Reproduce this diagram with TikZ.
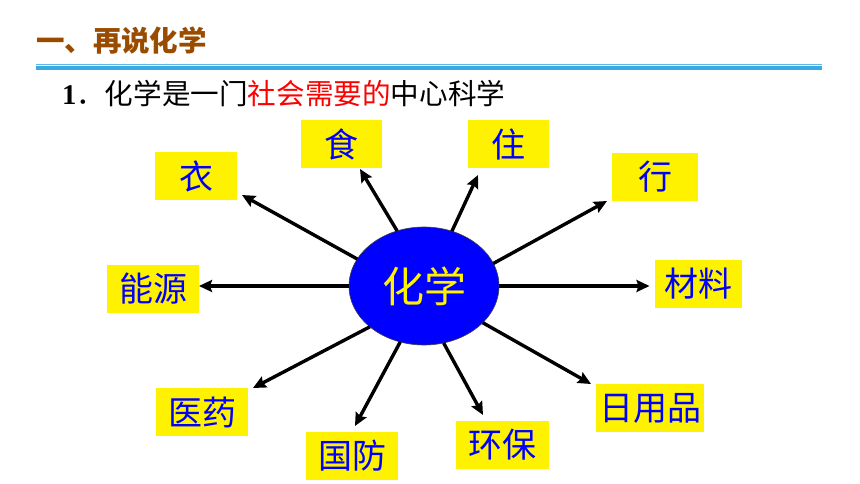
\documentclass[tikz,border=0pt]{standalone}
\usepackage{fontspec}
\newfontfamily\cjk{Noto Sans CJK SC}
\newfontfamily\serifnum{Liberation Serif}
\usetikzlibrary{shapes.geometric,arrows.meta}

\definecolor{titlebrown}{RGB}{153,76,0}
\definecolor{rulelight}{RGB}{95,185,232}
\definecolor{rulemain}{RGB}{58,170,226}

\tikzset{
  itembox/.style={
    fill=yellow, text=blue,
    minimum height=48pt, inner sep=0pt,
    align=center, font=\cjk\fontsize{34pt}{34pt}\selectfont
  },
  hubnode/.style={
    ellipse, draw=black!75, line width=0.6pt, fill=blue, text=yellow,
    minimum width=150pt, minimum height=118pt, inner sep=0pt,
    font=\cjk\fontsize{42pt}{42pt}\selectfont
  },
  spoke/.style={
    draw=black, line width=3.4pt,
    -{Stealth[length=13pt,width=12pt,inset=2pt]}
  },
}

\begin{document}
\begin{tikzpicture}[x=1pt,y=-1pt,every node/.style={outer sep=0pt}]

\useasboundingbox (0,0) rectangle (860,484);

%% Heading and rule
\node[anchor=west, inner sep=0pt, text=titlebrown,
      font=\cjk\bfseries\fontsize{28.5pt}{28.5pt}\selectfont] (heading) at (36,41)
  {一、再说化学};
\draw[rulelight, line width=1.2pt] (36,64.3) -- (822,64.3);
\fill[rulemain] (36,66) rectangle (822,70.3);

%% Sub heading
\node[anchor=west, inner sep=0pt, font=\fontsize{28.6pt}{28.6pt}\selectfont] (subhead) at (62,94)
  {{\serifnum\bfseries 1}{\cjk ．化学是一门\textcolor{red}{社会需要的}中心科学}};

%% Centre
\node[hubnode] (chem) at (424,286) {化学};

%% Surrounding items
\node[itembox, minimum width=82pt]  (yi)       at (196,176) {衣};
\node[itembox, minimum width=81pt]  (shi)      at (341,144) {食};
\node[itembox, minimum width=81pt]  (zhu)      at (508,144) {住};
\node[itembox, minimum width=86pt]  (xing)     at (655,177) {行};
\node[itembox, minimum width=92pt]  (nengyuan) at (153,289) {能源};
\node[itembox, minimum width=87pt]  (cailiao)  at (698,284) {材料};
\node[itembox, minimum width=108pt] (riyong)   at (650,408) {日用品};
\node[itembox, minimum width=93pt]  (huanbao)  at (502,445) {环保};
\node[itembox, minimum width=92pt]  (guofang)  at (352,456) {国防};
\node[itembox, minimum width=92pt]  (yiyao)    at (202,412) {医药};

%% Arrows
\draw[spoke] (chem.158)  -- ([shift={(5pt,5pt)}]yi.south east);
\draw[spoke] (chem.116)  -- ([shift={(19pt,-1pt)}]shi.south);
\draw[spoke] (chem.63)   -- ([shift={(-30pt,-7pt)}]zhu.south);
\draw[spoke] (chem.18)   -- ([shift={(-5pt,0pt)}]xing.south west);
\draw[spoke] (chem.west) -- (chem.west -| nengyuan.east);
\draw[spoke, shorten >=5pt] (chem.east) -- (chem.east -| cailiao.west);
\draw[spoke] (chem.-32)  -- ([shift={(-5pt,0pt)}]riyong.north west);
\draw[spoke] (chem.-71)  -- ([shift={(-19pt,6pt)}]huanbao.north);
\draw[spoke] (chem.-113) -- ([shift={(3pt,6pt)}]guofang.north);
\draw[spoke] (chem.-143) -- ([shift={(5pt,0pt)}]yiyao.north east);

\end{tikzpicture}
\end{document}
